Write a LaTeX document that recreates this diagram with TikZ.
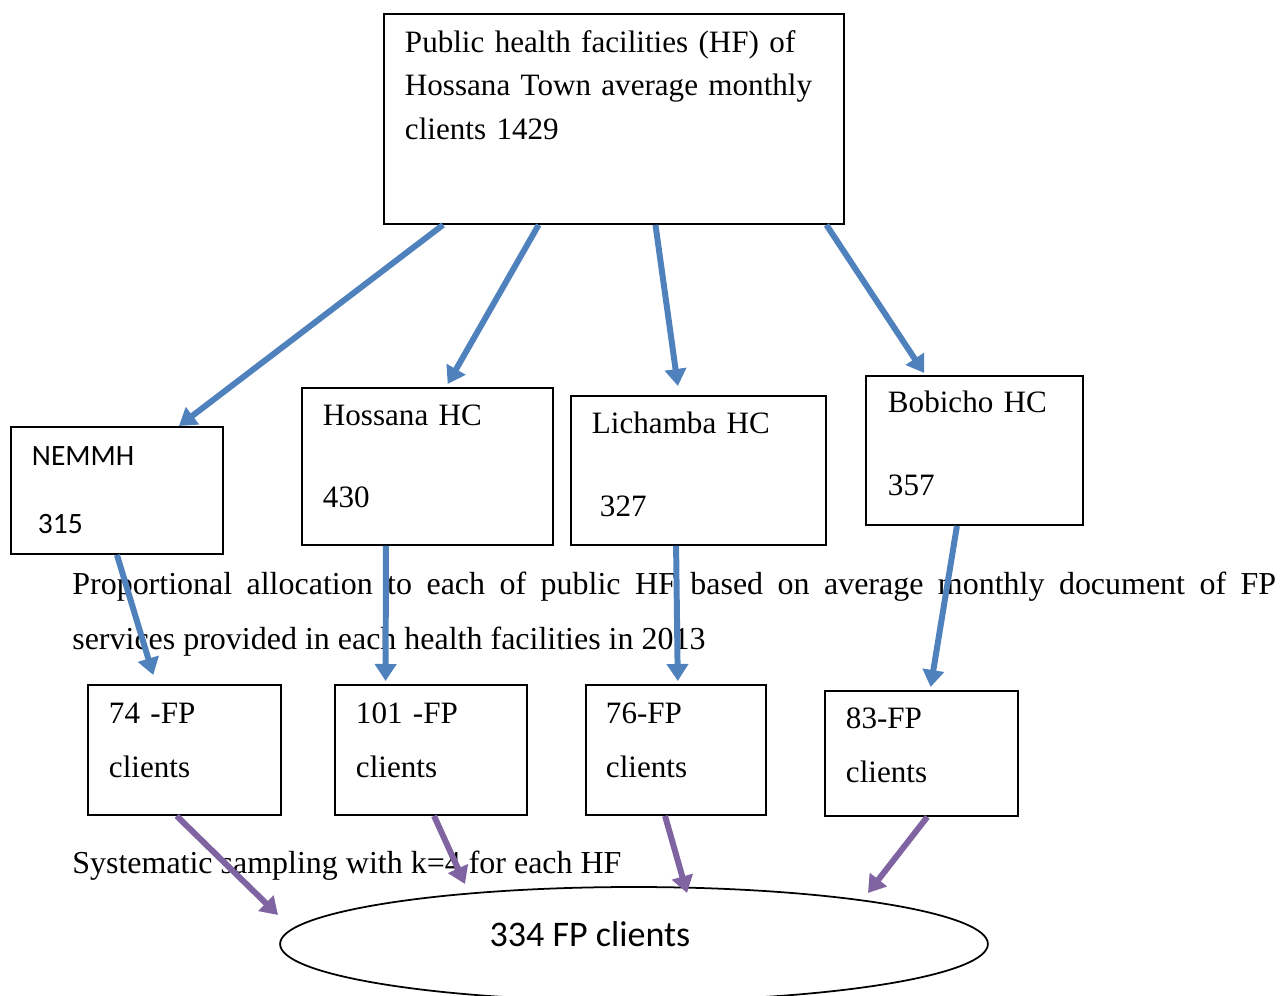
\documentclass[tikz,border=0pt]{standalone}
\usepackage{fontspec}
\setmainfont{Liberation Serif}
\newfontfamily\lightsans{Carlito}
\usetikzlibrary{arrows.meta,calc,shapes.geometric}
\definecolor{flowblue}{HTML}{4F81BD}
\definecolor{flowpurple}{HTML}{8064A2}

\begin{document}
\begin{tikzpicture}[x=0.02cm, y=-0.02cm,
  box/.style={draw, line width=1.1pt, anchor=north west, align=left,
              inner ysep=0pt, inner xsep=0.42cm, font=\fontsize{17.7}{24.5}\selectfont},
  note/.style={anchor=base west, inner sep=0pt, font=\fontsize{18.2}{31.3}\selectfont},
  blueflow/.style={draw=flowblue, line width=3.4pt, -{Triangle[length=0.34cm,width=0.42cm]}},
  purpleflow/.style={blueflow, draw=flowpurple}]
\useasboundingbox (0,0) rectangle (1286,996);

% facilities
\node[box, text width=8.36cm, text height=0.78cm, text depth=3.42cm] (hf) at (383,13)
  {Public health facilities (HF) of\\Hossana Town average monthly\\clients 1429};
\node[box, text width=3.4cm, text height=0.78cm, text depth=1.76cm,
      font=\lightsans\fontsize{16.8}{24.5}\selectfont] (nemmh) at (10,426)
  {NEMMH\\[0.5cm]\hspace*{0.12cm}315};
\node[box, text width=4.18cm, text height=0.76cm, text depth=2.38cm] (hossana) at (301,387)
  {Hossana HC\\[0.78cm]430};
\node[box, text width=4.26cm, text height=0.76cm, text depth=2.22cm] (lichamba) at (570,395)
  {Lichamba HC\\[0.8cm]\hspace*{0.16cm}327};
\node[box, inner xsep=0.44cm, text width=3.46cm, text height=0.74cm, text depth=2.24cm] (bobicho) at (865,375)
  {Bobicho HC\\[0.8cm]357};

% allocated samples
\node[box, text width=3.02cm, text height=0.78cm, text depth=1.82cm] (fp74) at (87,684)
  {74 -FP\\[0.22cm]clients};
\node[box, text width=3.0cm, text height=0.78cm, text depth=1.82cm] (fp101) at (334,684)
  {101 -FP\\[0.22cm]clients};
\node[box, inner xsep=0.4cm, text width=2.8cm, text height=0.78cm, text depth=1.82cm] (fp76) at (585,684)
  {76-FP\\[0.22cm]clients};
\node[box, text width=3.02cm, text height=0.76cm, text depth=1.74cm] (fp83) at (824,690)
  {83-FP\\[0.22cm]clients};

\node[draw, ellipse, line width=1pt, minimum width=14.16cm, minimum height=2.28cm, inner sep=0pt,
      text height=0.4cm, text depth=0.28cm, font=\lightsans\fontsize{20.5}{24}\selectfont] (pool) at (634,944)
  {334 FP clients\kern1.76cm};

\node[note, text width=24.08cm, align=justify] (alloc) at (72,595)
  {Proportional allocation to each of public HF based on average monthly document of FP\linebreak
   services provided in each health facilities in 2013};
\node[note] (sampling) at (72,874) {Systematic sampling with k=4 for each HF};

% arrows
\draw[blueflow] ($(hf.south west)!.13!(hf.south east)$) -- ($(nemmh.north west)!.79!(nemmh.north east)$);
\draw[blueflow] ($(hf.south west)!.337!(hf.south east)$) -- ($(hossana.north west)!.58!(hossana.north east)+(0,-3)$);
\draw[blueflow] ($(hf.south west)!.59!(hf.south east)$) -- ($(lichamba.north west)!.42!(lichamba.north east)+(0,-9)$);
\draw[blueflow] ($(hf.south west)!.96!(hf.south east)$) -- ($(bobicho.north west)!.27!(bobicho.north east)+(0,-2)$);

\draw[blueflow] ($(nemmh.south west)!.5!(nemmh.south east)$) -- ($(fp74.north west)!.34!(fp74.north east)+(0,-9)$);
\draw[blueflow] ($(hossana.south west)!.336!(hossana.south east)$) -- ($(fp101.north west)!.266!(fp101.north east)+(0,-3)$);
\draw[blueflow] ($(lichamba.south west)!.413!(lichamba.south east)$) -- ($(fp76.north west)!.51!(fp76.north east)+(0,-3)$);
\draw[blueflow] ($(bobicho.south west)!.42!(bobicho.south east)$) -- ($(fp83.north west)!.547!(fp83.north east)+(0,-3)$);

\draw[purpleflow] ($(fp74.south west)!.46!(fp74.south east)$) -- ($(pool.center)+(-356,-29)$);
\draw[purpleflow] ($(fp101.south west)!.516!(fp101.south east)$) -- ($(pool.center)+(-169,-60)$);
\draw[purpleflow] ($(fp76.south west)!.44!(fp76.south east)$) -- ($(pool.center)+(53,-51)$);
\draw[purpleflow] ($(fp83.south west)!.53!(fp83.south east)$) -- ($(pool.center)+(234,-51)$);
\end{tikzpicture}
\end{document}
